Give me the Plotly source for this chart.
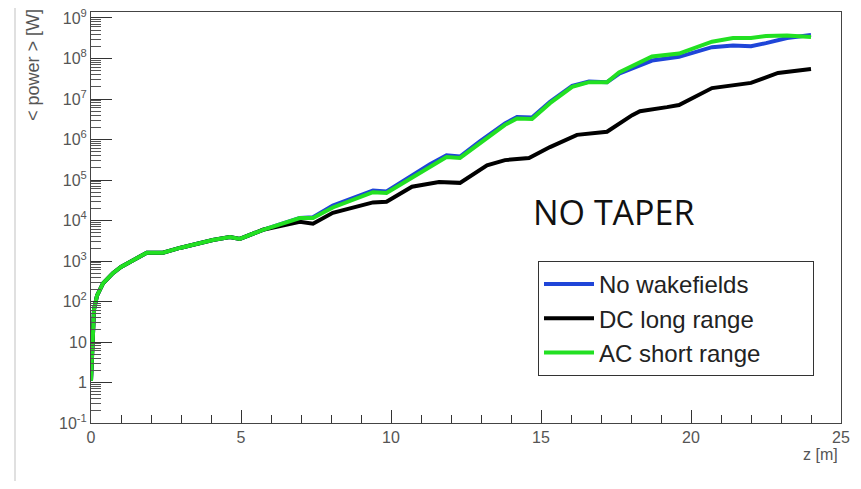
import plotly.graph_objects as go

# ---- data ----
z_common = [0.0, 0.05, 0.1, 0.2, 0.4, 0.73, 1.0, 1.3, 1.86, 2.4, 2.96, 4.06, 4.63, 4.96, 5.73]
p_common = [1.1, 16, 63, 140, 280, 500, 710, 950, 1600, 1600, 2100, 3300, 3900, 3500, 5900]

z_blue = z_common + [6.96, 7.4, 8.06, 8.7, 9.4, 9.85, 10.7, 11.3, 11.85, 12.3, 12.95, 13.8, 14.2, 14.7,
                     15.3, 16.04, 16.6, 17.2, 17.6, 18.3, 18.7, 19.6, 20.7, 21.4, 22.0, 22.5, 23.2, 24.0]
p_blue = p_common + [1.15e4, 1.2e4, 2.35e4, 3.5e4, 5.5e4, 5.2e4, 1.29e5, 2.45e5, 4.1e5, 3.8e5, 8.9e5, 2.5e6,
                     3.6e6, 3.5e6, 8.5e6, 2.1e7, 2.7e7, 2.6e7, 4.2e7, 6.6e7, 8.9e7, 1.1e8, 1.9e8, 2.1e8,
                     2.0e8, 2.4e8, 3.2e8, 3.8e8]

z_black = z_common + [6.96, 7.4, 8.06, 8.7, 9.4, 9.85, 10.7, 11.6, 12.3, 13.2, 13.8, 14.6, 15.3,
                      16.2, 17.2, 18.04, 18.3, 19.2, 19.6, 20.7, 22.0, 22.9, 24.0]
p_black = p_common + [9300, 8300, 1.55e4, 2.1e4, 2.8e4, 2.9e4, 6.8e4, 8.9e4, 8.5e4, 2.3e5, 3.1e5,
                      3.5e5, 6.5e5, 1.3e6, 1.55e6, 4.0e6, 5.0e6, 6.3e6, 7.1e6, 1.86e7, 2.5e7, 4.4e7, 5.5e7]

z_green = z_common + [6.96, 7.4, 8.06, 8.7, 9.4, 9.85, 10.7, 11.3, 11.85, 12.3, 12.95, 13.8, 14.2, 14.7,
                      15.3, 16.04, 16.6, 17.2, 17.6, 18.3, 18.7, 19.6, 20.7, 21.4, 22.0, 22.5, 23.2, 24.0]
p_green = p_common + [1.15e4, 1.15e4, 2.1e4, 3.2e4, 5.0e4, 4.8e4, 1.17e5, 2.2e5, 3.7e5, 3.5e5, 8.1e5, 2.3e6,
                      3.3e6, 3.2e6, 7.9e6, 2.0e7, 2.6e7, 2.6e7, 4.5e7, 7.8e7, 1.12e8, 1.32e8, 2.6e8, 3.2e8,
                      3.2e8, 3.6e8, 3.7e8, 3.4e8]

series_names = ["No wakefields", "DC long range", "AC short range"]
series_colors = ["#1f45d8", "#000000", "#22e022"]

y_tick_vals = [0.1, 1, 10, 100, 1e3, 1e4, 1e5, 1e6, 1e7, 1e8, 1e9]
y_tick_text = ["10<sup>-1</sup>", "1", "10", "10<sup>2</sup>", "10<sup>3</sup>", "10<sup>4</sup>",
               "10<sup>5</sup>", "10<sup>6</sup>", "10<sup>7</sup>", "10<sup>8</sup>", "10<sup>9</sup>"]
x_tick_vals = [0, 5, 10, 15, 20, 25]

# ---- figure ----
# the page body adds an 8px margin, so the figure is drawn 8px smaller/offset
W, H = 845, 473
L, R, T, B = 83, 12, 4, 58
pw, ph = W - L - R, H - T - B
SX0, SY0 = 91, 423  # screen position of plot-area bottom-left


def px(sx):
    return (sx - SX0) / pw


def py(sy):
    return (SY0 - sy) / ph


# trailing non-breaking spaces widen the legend box like the ROOT legend
legend_pad = "&nbsp;" * 7

fig = go.Figure()
for zs, ps, name, col in [(z_blue, p_blue, series_names[0], series_colors[0]),
                          (z_black, p_black, series_names[1], series_colors[1]),
                          (z_green, p_green, series_names[2], series_colors[2])]:
    fig.add_trace(go.Scatter(x=zs, y=ps, mode="lines", name=name + legend_pad,
                             line=dict(color=col, width=4)))

minor_y = [m * 10.0 ** k for k in range(-1, 9) for m in range(2, 10)]

axis_font = dict(family="Liberation Sans, Arial, sans-serif", size=16, color="#555")
fig.update_xaxes(range=[0, 25], tickvals=x_tick_vals, ticks="inside", ticklen=13, tickwidth=1,
                 tickcolor="#333", showgrid=False, zeroline=False, showline=True, linecolor="#444",
                 linewidth=1, mirror=True, tickfont=axis_font, automargin=False,
                 ticklabeloverflow="allow",
                 minor=dict(ticks="inside", ticklen=8, dtick=1, tickcolor="#333", showgrid=False))
fig.update_yaxes(type="log", range=[-1, 9.148], tickvals=y_tick_vals, ticktext=y_tick_text,
                 ticks="inside", ticklen=21, tickwidth=1, tickcolor="#333", showgrid=False,
                 zeroline=False, showline=True, linecolor="#444", linewidth=1, mirror=True,
                 tickfont=axis_font, automargin=False, ticklabeloverflow="allow",
                 minor=dict(ticks="inside", ticklen=10, tickvals=minor_y, tickcolor="#555", showgrid=False))

fig.update_layout(
    width=W, height=H, margin=dict(l=L, r=R, t=T, b=B, autoexpand=False),
    paper_bgcolor="white", plot_bgcolor="white", showlegend=True,
    legend=dict(x=px(538), y=py(261), xanchor="left", yanchor="top",
                bordercolor="#333", borderwidth=1, bgcolor="white",
                font=dict(family="Liberation Sans, Arial, sans-serif", size=24, color="#222"),
                itemwidth=50, tracegroupgap=0),
    annotations=[
        dict(text="NO TAPER", x=px(613), y=py(212), xref="paper", yref="paper",
             xanchor="center", yanchor="middle",
             showarrow=False, font=dict(family="Open Sans, sans-serif", size=34, color="#111")),
        dict(text="&lt; power &gt; [W]", x=px(33), y=py(65), xref="paper", yref="paper",
             xanchor="center", yanchor="middle", textangle=-90, showarrow=False,
             font=dict(family="Liberation Sans, Arial, sans-serif", size=18, color="#555")),
        dict(text="z [m]", x=px(840), y=py(455), xref="paper", yref="paper",
             xanchor="right", yanchor="middle", showarrow=False,
             font=dict(family="Liberation Sans, Arial, sans-serif", size=16, color="#555")),
    ],
    shapes=[dict(type="line", xref="paper", yref="paper", x0=px(15), x1=px(15),
                 y0=py(489), y1=py(0), line=dict(color="#e0e0e0", width=2))],
)

fig.write_html("out.html")
